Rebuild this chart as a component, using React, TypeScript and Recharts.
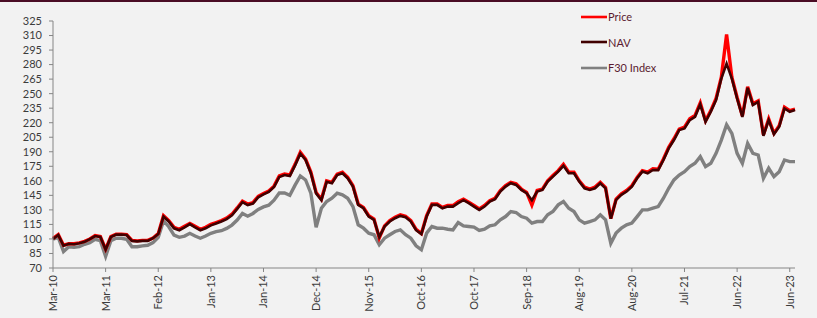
import { LineChart, Line, XAxis, YAxis } from "recharts";

// tick labels along the bottom, one every 10 samples
const dateLabels = [
  "Mar-10", "Mar-11", "Feb-12", "Jan-13", "Jan-14", "Dec-14", "Nov-15", "Oct-16",
  "Oct-17", "Sep-18", "Aug-19", "Aug-20", "Jul-21", "Jun-22", "Jun-23",
];

const yTicks = [70, 85, 100, 115, 130, 145, 160, 175, 190, 205, 220, 235, 250, 265, 280, 295, 310, 325];

const nav = [
  100, 104, 93, 95, 94.5, 95.5, 97, 99.7, 103, 102,
  89, 102, 104.5, 104.5, 104, 98, 97.5, 98, 98, 100.7,
  105, 123, 118, 111, 109, 112, 115.4, 112, 109, 111,
  114, 116, 118, 120.5, 124.5, 131, 138, 135, 136.5, 143,
  146, 148.5, 153.6, 164, 166, 165, 176, 188, 181.5, 167.8,
  147, 140, 159, 157.5, 166, 167.8, 162.6, 154, 135.2, 131.7,
  123, 119.7, 102, 112.8, 118, 121.4, 123.8, 122.5, 118, 109,
  105, 123.1, 135.2, 135.2, 131.7, 133.4, 133.4, 137, 140, 136.9,
  133.4, 130, 133.4, 138.6, 141, 148.9, 154, 157.5, 155.8, 150.6,
  147.2, 140, 148.9, 150.6, 159.2, 164.3, 169.5, 175.5, 167.8, 167.8,
  159.2, 152.3, 150.6, 152.3, 157.5, 152.3, 121, 140.3, 145.5, 148.9,
  154, 162.6, 169.5, 167.8, 171.2, 171, 181.5, 193.5, 202.1, 212.4,
  214.1, 222.7, 226.1, 239, 221, 231.3, 243.3, 265.6, 281, 265.6,
  245, 226, 256, 238.2, 241.6, 206.5, 222.7, 208, 215.8, 234.7,
  231.3, 233,
];

const price = [
  100.5, 104.5, 93.5, 95, 95, 96, 97.5, 100, 103.5, 102.5,
  89.5, 102.5, 105, 105, 104.5, 98.5, 98, 98.5, 98.5, 101,
  105.5, 124, 119, 112, 110, 113, 116, 113, 110, 112,
  115, 117, 119, 121.5, 125.5, 132, 139, 136, 137.5, 144,
  147, 149.5, 154.5, 165, 167, 166, 177, 189.5, 182.5, 169,
  148, 141, 160, 158.5, 167, 169, 163.5, 155, 136, 132.5,
  124, 120.5, 101, 113.5, 119, 122.5, 125, 123.5, 119, 110,
  105.5, 124, 136, 136, 132.5, 134.5, 134.5, 138.5, 141, 138,
  134.5, 131, 134.5, 139.5, 142, 150, 155, 158.5, 157, 151.5,
  148, 135, 150, 151.5, 160, 165.5, 170.5, 177, 169, 169,
  160, 153.5, 151.5, 153.5, 158.5, 153, 121, 141, 146.5, 150,
  155, 163.5, 170.5, 169, 172.5, 172, 182.5, 194.5, 203.5, 213.5,
  215.5, 224, 227.5, 240.5, 222, 232.5, 245, 267, 311, 267,
  246, 227, 257, 239.5, 242.5, 207.5, 224, 209, 217, 236,
  232.5, 234,
];

const f30 = [
  99.7, 101.7, 87, 92, 91.5, 92, 94.5, 96.2, 99.7, 98.3,
  82, 98.3, 100.7, 100.7, 99.7, 92, 92, 92.8, 93.5, 96.2,
  101.7, 118.8, 112.6, 104, 101.7, 103, 105.8, 103, 100.7, 103,
  105.8, 107.5, 108.5, 110.9, 114.3, 119.5, 126.3, 123.5, 126.3, 130.4,
  133.1, 134.8, 140, 147.4, 147.4, 145, 155.5, 165, 160.9, 147.2,
  112, 131.7, 138.6, 142, 147.2, 145.5, 142, 133.4, 114.6, 111.1,
  106, 104.3, 94, 100.8, 104.3, 107.7, 109.4, 104.3, 100.8, 93,
  88.8, 106, 112.8, 111.1, 111.1, 110, 109.4, 117, 113.5, 112.8,
  112.2, 108.7, 110, 113.5, 114.6, 119.7, 123.1, 128.3, 127.3, 123.1,
  121.4, 116.3, 118, 118, 124.9, 128.3, 135.2, 138.6, 131.7, 128.3,
  119.7, 116.3, 118, 119.7, 124.9, 119.7, 95.5, 106, 111.1, 114.6,
  116.3, 123.1, 130, 130, 131.7, 133.4, 142, 152.3, 160.9, 166,
  169.5, 174.7, 178.1, 185, 174.7, 178.1, 188.4, 202.1, 218, 209,
  188.4, 178.1, 198.7, 188.4, 186.7, 162.6, 173, 164.4, 169.5, 181.5,
  179.8, 179.8,
];

const data = nav.map((v, i) => ({ i, nav: v, price: price[i], f30: f30[i] }));

const FONT = "Lato, 'Open Sans', sans-serif";
const AXIS = "#868686";
const TEXT = "#3c3c3c";

const legendItems = [
  { name: "Price", color: "#ff0000" },
  { name: "NAV", color: "#400000" },
  { name: "F30 Index", color: "#808080" },
];

function DateTick({ x, y, payload }: any) {
  return (
    <text
      x={x}
      y={y}
      dy="0.36em"
      transform={`rotate(-90, ${x}, ${y})`}
      textAnchor="end"
      fontSize={11}
      fontFamily={FONT}
      fill={TEXT}
    >
      {dateLabels[Math.round(payload.value / 10)]}
    </text>
  );
}

export default function App() {
  return (
    <div
      style={{
        position: "absolute",
        left: 0,
        top: 0,
        width: 817,
        height: 318,
        background: "#f2f2f2",
        borderTop: "2px solid #4a0d25",
        boxSizing: "border-box",
      }}
    >
      <LineChart width={817} height={316} data={data} margin={{ top: 19, right: 22, bottom: 0, left: 0 }}>
        <XAxis
          dataKey="i"
          type="number"
          domain={[0, 141]}
          ticks={[0, 10, 20, 30, 40, 50, 60, 70, 80, 90, 100, 110, 120, 130, 140]}
          interval={0}
          height={50}
          tickSize={4}
          tickMargin={3}
          stroke={AXIS}
          tick={<DateTick />}
        />
        <YAxis
          type="number"
          domain={[70, 325]}
          ticks={yTicks}
          interval={0}
          width={53}
          tickSize={4}
          tickMargin={7}
          stroke={AXIS}
          tick={{ fontSize: 11, fontFamily: FONT, fill: TEXT }}
        />
        <Line dataKey="f30" stroke="#808080" strokeWidth={3.4} dot={false} isAnimationActive={false} />
        <Line dataKey="price" stroke="#ff0000" strokeWidth={3.4} dot={false} isAnimationActive={false} />
        <Line dataKey="nav" stroke="#400000" strokeWidth={2.6} dot={false} isAnimationActive={false} />
      </LineChart>
      {/* legend sits over the plot, top right */}
      <div
        style={{
          position: "absolute",
          left: 580,
          top: 2,
          fontFamily: FONT,
          fontSize: 11,
          color: "#5a1a30",
        }}
      >
        {legendItems.map((it) => (
          <div key={it.name} style={{ display: "flex", alignItems: "center", height: 25.5 }}>
            <svg width={28} height={6}>
              <line x1={1} y1={3} x2={27} y2={3} stroke={it.color} strokeWidth={2.6} />
            </svg>
            <span>{it.name}</span>
          </div>
        ))}
      </div>
    </div>
  );
}
